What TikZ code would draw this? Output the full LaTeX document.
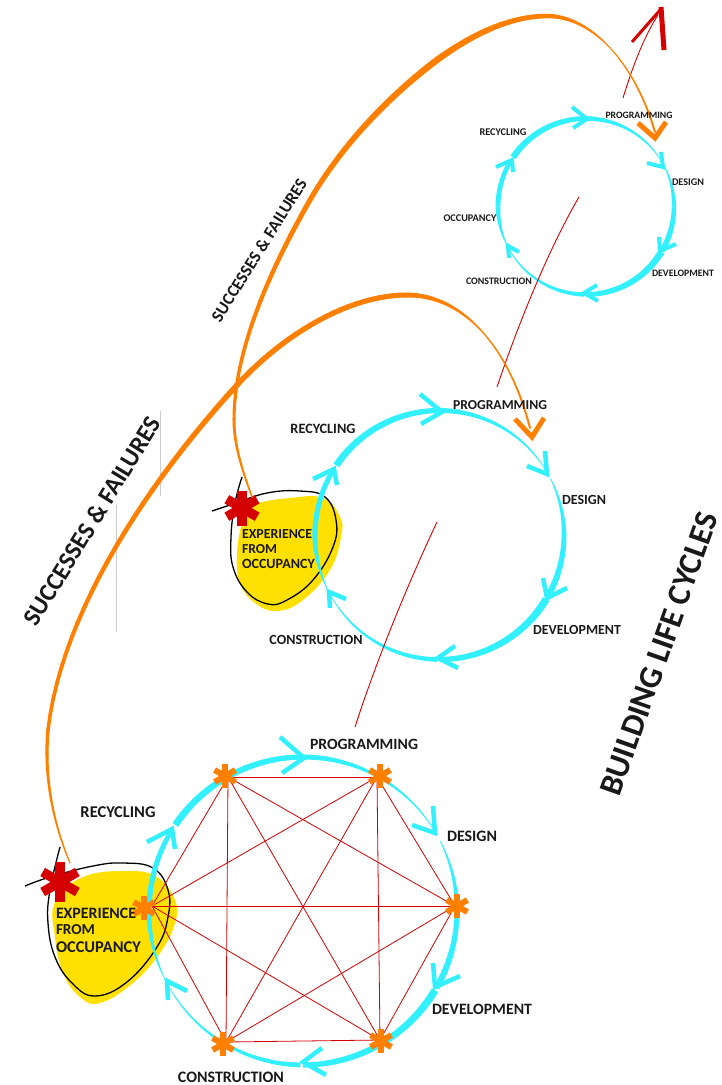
\documentclass[tikz,border=0pt]{standalone}
\usepackage{fontspec}
\usepackage{graphicx}
\setmainfont{Carlito}
\definecolor{cyc}{HTML}{33F0FF}
\definecolor{org}{HTML}{FF8000}
\definecolor{rd}{HTML}{D40000}
\definecolor{yel}{HTML}{FFE000}
\definecolor{gry}{HTML}{CCCCCC}
\tikzset{
  lab/.style={inner sep=0pt,outer sep=0pt,text=black!90},
  graphedge/.style={rd,line width=0.8pt},
  thinred/.style={rd,line width=0.9pt},
  outline/.style={black,line width=1.3pt},
  grayline/.style={gry,line width=0.9pt},
}
% tapered circular arc: cx cy r a b w1 w2 (angles clockwise on screen)
\newcommand\tarc[7]{%
  \fill[cyc] plot[domain=#4:#5,samples=24,variable=\a]
    ({#1+(#3+0.5*(#6+(#7-#6)*(\a-#4)/(#5-#4)))*cos(\a)},{#2+(#3+0.5*(#6+(#7-#6)*(\a-#4)/(#5-#4)))*sin(\a)})
    -- plot[domain=#5:#4,samples=24,variable=\a]
    ({#1+(#3-0.5*(#6+(#7-#6)*(\a-#4)/(#5-#4)))*cos(\a)},{#2+(#3-0.5*(#6+(#7-#6)*(\a-#4)/(#5-#4)))*sin(\a)})
    -- cycle;}
% the six arcs of one cycle: cx cy r and the widths
\newcommand\cycle[4]{%
  \tarc{#1}{#2}{#3}{214}{271}{1.15*#4}{0.85*#4}
  \tarc{#1}{#2}{#3}{271}{330}{0.85*#4}{.5}
  \tarc{#1}{#2}{#3}{333}{360}{.8}{0.8*#4}
  \tarc{#1}{#2}{#3}{360}{390}{0.8*#4}{1.05*#4}
  \tarc{#1}{#2}{#3}{391}{450}{1.25*#4}{0.85*#4}
  \tarc{#1}{#2}{#3}{91}{153}{0.8*#4}{.5}
  \tarc{#1}{#2}{#3}{153}{180}{.5}{0.9*#4}
  \tarc{#1}{#2}{#3}{180}{212}{0.9*#4}{0.8*#4}}
% chevron: colour, width, tip, barb, barb
\newcommand\chev[5]{\draw[#1,line width=#2pt,line join=miter] (#4) -- (#3) -- (#5);}
% asterisk at named coordinate
\newcommand\aster[4]{%
  \foreach \ang in {90,30,150}{\draw[#1,line width=#4pt] ($(#2)+(\ang:#3/2)$) -- ($(#2)+(\ang+180:#3/2)$);}}
% tapered cubic Bezier: p0 p1 p2 p3 (x,y each), w0 w3
\newcommand\tbez[6]{%
  \def\pxy##1,##2;{\def\qx{##1}\def\qy{##2}}%
  \pxy#1;\let\xa\qx\let\ya\qy
  \pxy#2;\let\xb\qx\let\yb\qy
  \pxy#3;\let\xc\qx\let\yc\qy
  \pxy#4;\let\xd\qx\let\yd\qy
  \foreach \jj in {1,...,24}{%
    \pgfmathsetmacro\ts{(\jj-1)/24}\pgfmathsetmacro\te{\jj/24}%
    \pgfmathsetmacro\lw{#5+(#6-#5)*(\te-0.02)}%
    \pgfmathsetmacro\us{1-\ts}\pgfmathsetmacro\ue{1-\te}%
    \pgfmathsetmacro\xs{\us*\us*\us*\xa+3*\us*\us*\ts*\xb+3*\us*\ts*\ts*\xc+\ts*\ts*\ts*\xd}%
    \pgfmathsetmacro\ys{\us*\us*\us*\ya+3*\us*\us*\ts*\yb+3*\us*\ts*\ts*\yc+\ts*\ts*\ts*\yd}%
    \pgfmathsetmacro\xe{\ue*\ue*\ue*\xa+3*\ue*\ue*\te*\xb+3*\ue*\te*\te*\xc+\te*\te*\te*\xd}%
    \pgfmathsetmacro\ye{\ue*\ue*\ue*\ya+3*\ue*\ue*\te*\yb+3*\ue*\te*\te*\yc+\te*\te*\te*\yd}%
    \draw[org,line width=\lw pt,line cap=round] (\xs,\ys) -- (\xe,\ye);
  }}
\newcommand\fitw[2]{\resizebox{#1pt}{!}{\textbf{#2}}}
\usetikzlibrary{calc}
\begin{document}
\begin{tikzpicture}[x=1pt,y=-1pt]
\useasboundingbox (0,0) rectangle (722,1085);
\fill[white] (0,0) rectangle (722,1085);

% gray stray lines
\coordinate (g1a) at (116,505); \coordinate (g1b) at (116,632);
\coordinate (g2a) at (160.5,411); \coordinate (g2b) at (160.5,496);
\draw[grayline] (g1a) -- (g1b);
\draw[grayline] (g2a) -- (g2b);

% yellow blobs
\fill[yel] plot[smooth cycle,tension=.7] coordinates {(55,902) (83,877) (127,871) (157,877) (175,900) (175,923) (160,953) (133,983) (100,1003) (80,997) (63,973) (55,937)};
\fill[yel] plot[smooth cycle,tension=.7] coordinates {(243,520) (253,505) (290,498) (323,498) (340,517) (341,537) (330,570) (303,600) (277,611) (255,603) (240,583) (237,553)};

% black outlines
\draw[outline] plot[smooth,tension=.7] coordinates {(25,886) (50,877) (93,866) (123,863) (153,868) (168,890) (168,917) (157,947) (127,982) (95,996) (72,983) (55,957) (48,923) (50,890) (60,847)};
\draw[outline] plot[smooth,tension=.7] coordinates {(212,511) (233,504) (267,493) (300,491) (325,497) (336,520) (333,547) (313,580) (287,600) (268,604) (247,592) (233,567) (231,537) (235,503) (242,477)};

% big cycle
\cycle{303}{911}{154}{6}
\chev{cyc}{4.5}{304,758}{280,737}{282,773}
\chev{cyc}{4.5}{172,829}{147,842}{175,849}
\chev{cyc}{4.5}{435,833}{433,806}{412,825}
\chev{cyc}{4.5}{435,987}{433,963}{460,976}
\chev{cyc}{4.5}{303,1062}{322,1048}{326,1075}
\chev{cyc}{4.5}{167,981}{168,1000}{187,991}

% middle cycle
\cycle{439.5}{535}{124.5}{6}
\chev{cyc}{4.5}{442,412}{420,394}{421,424}
\chev{cyc}{4.5}{334,469}{313,479}{337,485}
\chev{cyc}{4.5}{547,474}{545,451}{527,466}
\chev{cyc}{4.5}{547,598}{543,578}{567,588}
\chev{cyc}{4.5}{438,658}{455,646}{458,668}
\chev{cyc}{4.5}{329,592}{330,608}{346,599}

% small cycle
\cycle{586}{206.5}{88}{5.5}
\chev{cyc}{4}{587,119}{572,107}{573,128}
\chev{cyc}{4}{512,160}{496,167}{513,172}
\chev{cyc}{4}{663,167}{661,152}{647,163}
\chev{cyc}{4}{660,251}{659,237}{676,244}
\chev{cyc}{4}{584,293}{597,285}{598,301}
\chev{cyc}{4}{508,246}{509,258}{519,252}

% graph inside the big cycle
\coordinate (v1) at (228,777);
\coordinate (v2) at (377,777);
\coordinate (v3) at (455,906);
\coordinate (v4) at (380,1040);
\coordinate (v5) at (226,1042);
\coordinate (v6) at (152,906);
\foreach \p/\q in {v1/v2,v1/v3,v1/v4,v1/v5,v1/v6,v2/v3,v2/v4,v2/v5,v2/v6,v3/v4,v3/v5,v3/v6,v4/v5,v4/v6,v5/v6}
  \draw[graphedge] (\p) -- (\q);

\coordinate (o1) at (225,776);
\coordinate (o2) at (380,776);
\coordinate (o3) at (457,906);
\coordinate (o4) at (381,1041);
\coordinate (o5) at (223,1044);
\coordinate (o6) at (144,908);
\foreach \o in {o1,o2,o3,o4,o5,o6} {\aster{org}{\o}{24}{6}}

% red asterisks
\coordinate (s1) at (60,882);
\coordinate (s2) at (242,508);
\aster{rd}{s1}{40}{9.5}
\aster{rd}{s2}{35}{9.5}

% red guide lines
\coordinate (r1a) at (355,727); \coordinate (r1b) at (437,522);
\coordinate (r2a) at (497,387); \coordinate (r2b) at (579,197);
\coordinate (r3a) at (623,98);  \coordinate (r3b) at (658,15);
\draw[thinred] (r1a) .. controls (375,665) and (405,590) .. (r1b);
\draw[thinred] (r2a) .. controls (518,325) and (548,250) .. (r2b);
\draw[thinred] (r3a) .. controls (631,72) and (642,40) .. (r3b);
\draw[rd,line width=3pt] (632,42) -- (661,9);
\draw[rd,line width=5pt] (661,7) -- (664,50);

% orange arcs
\tbez{70,863}{52,820}{44,775}{48,730}{1.2}{3.5}
\tbez{48,730}{62,610}{150,480}{237,385}{3.5}{5.5}
\tbez{237,385}{285,333}{350,295}{407,295}{5.5}{5}
\tbez{407,295}{436,295}{461.75,308.75}{482.75,332.25}{5}{1.3}
\tbez{482.75,332.25}{503.75,355.75}{520,389}{530,428}{1.3}{2}
\chev{org}{5}{532,437}{515,419}{544,418}
\tbez{252,497}{243,472}{234,446}{234,420}{1.5}{3}
\tbez{234,420}{234,350}{270,270}{310,200}{3}{5}
\tbez{310,200}{340,148}{385,100}{433,63}{5}{6.5}
\tbez{433,63}{470,35}{510,16}{547,16}{6.5}{4.5}
\tbez{547,16}{568.5,16}{590.5,27}{609.6,47.4}{4.5}{1}
\tbez{609.6,47.4}{628.75,67.75}{645,97.5}{655,132}{1}{2}
\chev{org}{5}{655,138}{638,123}{666,122}

% labels: big cycle
\node[lab] (b1) at (364,744) {\fitw{108}{PROGRAMMING}};
\node[lab] (b2) at (118,812) {\fitw{75}{RECYCLING}};
\node[lab] (b3) at (472,836) {\fitw{50}{DESIGN}};
\node[lab] (b4) at (482,1009) {\fitw{100}{DEVELOPMENT}};
\node[lab] (b5) at (231,1077) {\fitw{106}{CONSTRUCTION}};
\node[lab,anchor=west] (b6) at (56,913) {\fitw{80}{EXPERIENCE}};
\node[lab,anchor=west] (b7) at (56,930) {\fitw{39}{FROM}};
\node[lab,anchor=west] (b8) at (56,947) {\fitw{85}{OCCUPANCY}};

% labels: middle cycle
\node[lab] (m1) at (500,405) {\fitw{94}{PROGRAMMING}};
\node[lab] (m2) at (323,429) {\fitw{65}{RECYCLING}};
\node[lab] (m3) at (584,500) {\fitw{44}{DESIGN}};
\node[lab] (m4) at (577,630) {\fitw{88}{DEVELOPMENT}};
\node[lab] (m5) at (316,640) {\fitw{93}{CONSTRUCTION}};
\node[lab,anchor=west] (m6) at (242,534) {\fitw{70}{EXPERIENCE}};
\node[lab,anchor=west] (m7) at (242,549) {\fitw{35}{FROM}};
\node[lab,anchor=west] (m8) at (242,564) {\fitw{73}{OCCUPANCY}};

% labels: small cycle
\node[lab] (t1) at (639,115) {\fitw{67}{PROGRAMMING}};
\node[lab] (t2) at (503,132) {\fitw{47}{RECYCLING}};
\node[lab] (t3) at (688,182) {\fitw{32}{DESIGN}};
\node[lab] (t4) at (683,273) {\fitw{62}{DEVELOPMENT}};
\node[lab] (t5) at (499,281) {\fitw{66}{CONSTRUCTION}};
\node[lab] (t6) at (470,218) {\fitw{53}{OCCUPANCY}};

% rotated titles
\node[lab,rotate=58.5] (h1) at (92,521) {\fitw{240}{SUCCESSES \& FAILURES}};
\node[lab,rotate=58] (h2) at (259,250) {\fitw{165}{SUCCESSES \& FAILURES}};
\node[lab,rotate=70.5] (h3) at (659,654) {\fitw{297}{BUILDING LIFE CYCLES}};
\end{tikzpicture}
\end{document}
